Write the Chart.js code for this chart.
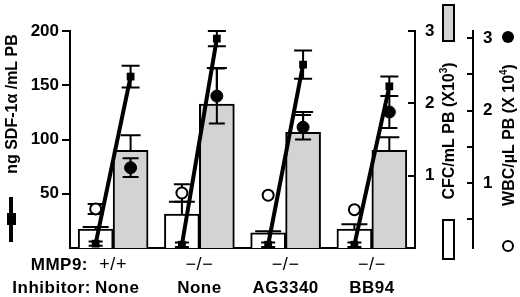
<!DOCTYPE html>
<html>
<head>
<meta charset="utf-8">
<script src="https://cdn.jsdelivr.net/npm/chart.js@4.4.0/dist/chart.umd.min.js"></script>
<style>
  html, body { margin: 0; padding: 0; background: #fff; }
  #chart { display: block; }
</style>
</head>
<body>
<canvas id="chart" width="520" height="297"></canvas>
<script>
// categories
const mmp9 = ["+/+", "\u2212/\u2212", "\u2212/\u2212", "\u2212/\u2212"];
const inhibitor = ["None", "None", "AG3340", "BB94"];

// CFC/mL PB (x10^3): white = before, gray = after
const cfcBefore = [0.26, 0.47, 0.21, 0.26];
const cfcBeforeErr = [0.03, 0.17, 0.02, 0.07];
const cfcAfter = [1.35, 1.99, 1.6, 1.35];
const cfcAfterErr = [0.21, 0.5, 0.28, 0.18];

// ng SDF-1a/mL PB
const sdfBefore = [4, 3, 3, 3];
const sdfBeforeErr = [2, 2, 2, 2];
const sdfAfter = [158, 193, 169, 149];
const sdfAfterErr = [10, 7, 13, 9];

// WBC/uL PB (x10^4)
const wbcBefore = [0.64, 0.86, 0.83, 0.63];
const wbcBeforeErr = [0.07, 0.12, 0, 0];
const wbcAfter = [1.21, 2.2, 1.77, 1.98];
const wbcAfterErr = [0.13, 0.38, 0.17, 0.22];

// tick values
const sdfTicks = [50, 100, 150, 200];
const cfcTicks = [1, 2, 3];
const wbcTicks = [0.5, 1, 1.5, 2, 2.5, 3];
const wbcLabels = [1, 2, 3];

const GRAY = "#d3d3d3";
const FONT = '"Liberation Sans", Arial, Helvetica, sans-serif';
const shift = 0.2025; // offset of each bar centre from its category centre (in categories)
const BAR_W = 35;

Chart.defaults.font.family = FONT;
Chart.defaults.color = "#000";

// points on the hidden linear x axis (category i spans i-0.5 .. i+0.5)
const before = (arr) => arr.map((v, i) => ({ x: i - shift, y: v }));
const after = (arr) => arr.map((v, i) => ({ x: i + shift, y: v }));
const sdfLine = [];
sdfBefore.forEach((v, i) => {
  sdfLine.push({ x: i - shift, y: v });
  sdfLine.push({ x: i + shift, y: sdfAfter[i] });
  sdfLine.push({ x: i + 0.5, y: null });
});

// error bars, drawn right after the bars so circles and lines sit on top
const errorBars = {
  id: "errorBars",
  afterDatasetDraw(chart, args) {
    if (args.index !== 0) return;
    const ctx = chart.ctx;
    const xs = chart.scales.x2;
    const { y, yCFC, yWBC } = chart.scales;
    ctx.save();
    ctx.strokeStyle = "#000";
    ctx.lineWidth = 2;
    function bar(xv, sc, lo, hi, cap) {
      const px = xs.getPixelForValue(xv);
      const p1 = sc.getPixelForValue(lo);
      const p2 = sc.getPixelForValue(hi);
      ctx.beginPath();
      ctx.moveTo(px, p1);
      ctx.lineTo(px, p2);
      ctx.moveTo(px - cap / 2, p2);
      ctx.lineTo(px + cap / 2, p2);
      ctx.stroke();
    }
    function sym(xv, sc, v, e, cap) {
      if (!e) return;
      bar(xv, sc, v, v + e, cap);
      bar(xv, sc, v, v - e, cap);
    }
    for (let i = 0; i < mmp9.length; i++) {
      if (cfcBeforeErr[i]) bar(i - shift, yCFC, cfcBefore[i], cfcBefore[i] + cfcBeforeErr[i], 26);
      bar(i + shift, yCFC, cfcAfter[i], cfcAfter[i] + cfcAfterErr[i], 20);
      sym(i - shift, yWBC, wbcBefore[i], wbcBeforeErr[i], 16);
      sym(i + shift, yWBC, wbcAfter[i], wbcAfterErr[i], 16);
      sym(i - shift, y, sdfBefore[i], sdfBeforeErr[i], 14);
      sym(i + shift, y, sdfAfter[i], sdfAfterErr[i], 18);
    }
    ctx.restore();
  },
};

// inward tick marks for the two right axes
const innerTicks = {
  id: "innerTicks",
  afterDraw(chart) {
    const ctx = chart.ctx;
    ctx.save();
    ctx.strokeStyle = "#000";
    ctx.lineWidth = 2;
    [["yCFC", cfcTicks, 7], ["yWBC", wbcTicks, 6]].forEach(([id, vals, len]) => {
      const sc = chart.scales[id];
      vals.forEach((v) => {
        const py = Math.round(sc.getPixelForValue(v));
        ctx.beginPath();
        ctx.moveTo(sc.left - len, py);
        ctx.lineTo(sc.left, py);
        ctx.stroke();
      });
    });
    ctx.restore();
  },
};

// rotated axis titles, their key symbols and the two rows of category labels
function vText(ctx, cx, cy, base, sup, tail, size) {
  ctx.save();
  ctx.translate(cx, cy);
  ctx.rotate(-Math.PI / 2);
  ctx.textBaseline = "middle";
  ctx.textAlign = "left";
  const f = `bold ${size}px ${FONT}`;
  const fs = `bold ${Math.round(size * 0.62)}px ${FONT}`;
  ctx.font = f;
  const w1 = ctx.measureText(base).width;
  const w3 = ctx.measureText(tail).width;
  ctx.font = fs;
  const w2 = sup ? ctx.measureText(sup).width : 0;
  let x = -(w1 + w2 + w3) / 2;
  ctx.font = f;
  ctx.fillText(base, x, 0);
  x += w1;
  if (sup) {
    ctx.font = fs;
    ctx.fillText(sup, x, -size * 0.35);
    x += w2;
    ctx.font = f;
  }
  ctx.fillText(tail, x, 0);
  ctx.restore();
}

const annotations = {
  id: "annotations",
  afterDraw(chart) {
    const ctx = chart.ctx;
    ctx.save();
    ctx.fillStyle = "#000";
    ctx.strokeStyle = "#000";

    // left title + line/square key
    vText(ctx, 13, 104, "ng SDF-1\u03b1 /mL PB", "", "", 16);
    ctx.lineWidth = 4;
    ctx.beginPath();
    ctx.moveTo(11, 197);
    ctx.lineTo(11, 242);
    ctx.stroke();
    ctx.fillRect(7, 213, 9, 12);

    // CFC title + bar keys
    vText(ctx, 450, 131, "CFC/mL PB (X10", "3", ")", 16);
    ctx.lineWidth = 2;
    ctx.fillStyle = GRAY;
    ctx.fillRect(443, 5, 11, 36);
    ctx.strokeRect(443, 5, 11, 36);
    ctx.fillStyle = "#fff";
    ctx.fillRect(443, 220, 11, 39);
    ctx.strokeRect(443, 220, 11, 39);
    ctx.fillStyle = "#000";

    // WBC title + circle keys
    vText(ctx, 510, 135, "WBC/\u00b5L PB (X 10", "4", ")", 16);
    ctx.beginPath();
    ctx.arc(508, 37, 6, 0, Math.PI * 2);
    ctx.fill();
    ctx.beginPath();
    ctx.arc(508, 246, 5, 0, Math.PI * 2);
    ctx.fillStyle = "#fff";
    ctx.fill();
    ctx.stroke();
    ctx.fillStyle = "#000";

    // category labels
    const xs = chart.scales.x;
    ctx.textBaseline = "alphabetic";
    if ("letterSpacing" in ctx) ctx.letterSpacing = "0.5px";
    ctx.textAlign = "right";
    ctx.font = `bold 17px ${FONT}`;
    ctx.fillText("MMP9:", 88, 270);
    ctx.fillText("Inhibitor:", 91, 293);
    ctx.textAlign = "center";
    mmp9.forEach((t, i) => {
      const px = xs.getPixelForValue(i);
      ctx.font = `18px ${FONT}`;
      ctx.fillText(t, px, 270);
      ctx.font = `bold 17px ${FONT}`;
      ctx.fillText(inhibitor[i], i === 0 ? px + 4 : px, 293);
    });
    ctx.restore();
  },
};

const barStyle = {
  type: "bar",
  xAxisID: "x2",
  yAxisID: "yCFC",
  grouped: false,
  barThickness: BAR_W,
  borderColor: "#000",
  borderWidth: 2,
  order: 4,
};

new Chart(document.getElementById("chart"), {
  type: "bar",
  data: {
    labels: inhibitor,
    datasets: [
      { ...barStyle, label: "CFC before", data: before(cfcBefore), backgroundColor: "#fff" },
      { ...barStyle, label: "CFC after", data: after(cfcAfter), backgroundColor: GRAY },
      {
        type: "line",
        label: "WBC before",
        data: before(wbcBefore),
        xAxisID: "x2",
        yAxisID: "yWBC",
        showLine: false,
        pointStyle: "circle",
        pointRadius: 5.5,
        pointBackgroundColor: "#fff",
        pointBorderColor: "#000",
        pointBorderWidth: 2,
        order: 2,
      },
      {
        type: "line",
        label: "WBC after",
        data: after(wbcAfter),
        xAxisID: "x2",
        yAxisID: "yWBC",
        showLine: false,
        pointStyle: "circle",
        pointRadius: 6,
        pointBackgroundColor: "#000",
        pointBorderColor: "#000",
        pointBorderWidth: 1,
        order: 2,
      },
      {
        type: "line",
        label: "SDF-1",
        data: sdfLine,
        xAxisID: "x2",
        yAxisID: "y",
        spanGaps: false,
        borderColor: "#000",
        borderWidth: 4,
        pointStyle: "rect",
        pointRadius: 5.5,
        pointBackgroundColor: "#000",
        pointBorderColor: "#000",
        pointBorderWidth: 0,
        order: 1,
      },
    ],
  },
  options: {
    responsive: false,
    animation: false,
    devicePixelRatio: 1,
    layout: { padding: { top: 31, left: 0, right: 0, bottom: 0 } },
    plugins: { legend: { display: false }, tooltip: { enabled: false } },
    scales: {
      x: {
        type: "category",
        offset: true,
        ticks: { display: false },
        grid: { display: false, drawTicks: false },
        border: { color: "#000", width: 2 },
        afterFit: (s) => { s.height = 49; },
      },
      x2: {
        type: "linear",
        display: false,
        min: -0.5,
        max: 3.5,
        offset: false,
      },
      y: {
        position: "left",
        min: 0,
        max: 200,
        afterBuildTicks: (s) => { s.ticks = sdfTicks.map((v) => ({ value: v })); },
        ticks: { font: { size: 17, weight: "bold" }, color: "#000", padding: 3 },
        grid: { drawOnChartArea: false, color: "#000", lineWidth: 2, tickLength: 8 },
        border: { color: "#000", width: 2 },
        afterFit: (s) => { s.width = 70; s.paddingTop = 0; s.paddingBottom = 0; },
      },
      yCFC: {
        position: "right",
        weight: 0,
        min: 0,
        max: 3,
        afterBuildTicks: (s) => { s.ticks = cfcTicks.map((v) => ({ value: v })); },
        ticks: { font: { size: 17, weight: "bold" }, color: "#000", padding: 10 },
        grid: { display: false, drawTicks: false },
        border: { color: "#000", width: 2 },
        afterFit: (s) => { s.width = 58; s.paddingTop = 0; s.paddingBottom = 0; },
      },
      yWBC: {
        position: "right",
        weight: 1,
        min: 0.1,
        max: 3.1,
        afterBuildTicks: (s) => { s.ticks = wbcTicks.map((v) => ({ value: v })); },
        ticks: {
          font: { size: 17, weight: "bold" },
          color: "#000",
          padding: 10,
          callback: (v) => (wbcLabels.includes(v) ? String(v) : ""),
        },
        grid: { display: false, drawTicks: false },
        border: { color: "#000", width: 2 },
        afterFit: (s) => { s.width = 47; s.paddingTop = 0; s.paddingBottom = 0; },
      },
    },
  },
  plugins: [errorBars, innerTicks, annotations],
});
</script>
</body>
</html>
